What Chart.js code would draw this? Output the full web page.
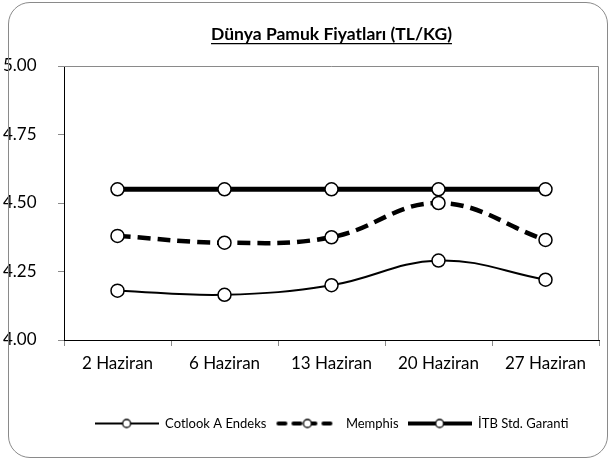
<!DOCTYPE html>
<html>
<head>
<meta charset="utf-8">
<script src="https://cdn.jsdelivr.net/npm/chart.js@4.4.0/dist/chart.umd.min.js"></script>
<style>
    html, body { margin: 0; padding: 0; background: #fff; }
    #wrap { position: relative; width: 614px; height: 460px; }
    #frame {
        position: absolute; left: 8px; top: 2px; width: 598px; height: 454px;
        border: 1px solid #8a8a8a; border-radius: 22px; pointer-events: none;
    }
    canvas { position: absolute; left: 0; top: 0; }
</style>
</head>
<body>
<div id="wrap">
    <canvas id="pamukChart" width="614" height="460"></canvas>
    <div id="frame"></div>
</div>
<script>
    // Veriler
    var categories = ['2 Haziran', '6 Haziran', '13 Haziran', '20 Haziran', '27 Haziran'];
    var seriesNames = ['Cotlook A Endeks', 'Memphis', 'İTB Std. Garanti'];
    var cotlookValues = [4.18, 4.165, 4.20, 4.29, 4.22];
    var memphisValues = [4.38, 4.355, 4.375, 4.50, 4.365];
    var itbValues = [4.55, 4.55, 4.55, 4.55, 4.55];
    var yTicks = [4.00, 4.25, 4.50, 4.75, 5.00];

    var fontFamily = 'Lato, "Open Sans", sans-serif';
    var titleSize = 17.5;

    // legend symbol: line with a marker in the middle
    function legendSymbol(lineWidth, dash) {
        var c = document.createElement('canvas');
        c.width = 64;
        c.height = 14;
        var ctx = c.getContext('2d');
        ctx.strokeStyle = '#000';
        ctx.lineWidth = lineWidth;
        ctx.lineCap = dash ? 'round' : 'butt';
        if (dash) ctx.setLineDash(dash);
        ctx.beginPath();
        ctx.moveTo(dash ? 3 : 0, 7);
        ctx.lineTo(dash ? 61 : 64, 7);
        ctx.stroke();
        ctx.setLineDash([]);
        ctx.beginPath();
        ctx.arc(32, 7, 4, 0, Math.PI * 2);
        ctx.fillStyle = '#fff';
        ctx.fill();
        ctx.lineWidth = 1.3;
        ctx.stroke();
        return c;
    }

    var symbols = [legendSymbol(2), legendSymbol(4, [7, 8]), legendSymbol(4)];

    var plotBorder = {
        id: 'plotBorder',
        beforeDatasetsDraw: function (chart) {
            var a = chart.chartArea;
            var ctx = chart.ctx;
            ctx.save();
            ctx.strokeStyle = '#8a8a8a';
            ctx.lineWidth = 1;
            ctx.beginPath();
            ctx.moveTo(a.left, a.top + 0.5);
            ctx.lineTo(a.right - 0.5, a.top + 0.5);
            ctx.lineTo(a.right - 0.5, a.bottom);
            ctx.stroke();
            ctx.restore();
        }
    };

    var titleUnderline = {
        id: 'titleUnderline',
        afterDraw: function (chart) {
            var t = chart.titleBlock;
            if (!t) return;
            var ctx = chart.ctx;
            ctx.save();
            ctx.font = 'bold ' + titleSize + 'px ' + fontFamily;
            var text = chart.options.plugins.title.text;
            var w = ctx.measureText(text).width;
            var cx = (t.left + t.right) / 2;
            var y = t.top + t.options.padding.top + titleSize * 1.12;
            ctx.strokeStyle = '#000';
            ctx.lineWidth = 1.3;
            ctx.beginPath();
            ctx.moveTo(cx - w / 2, y);
            ctx.lineTo(cx + w / 2, y);
            ctx.stroke();
            ctx.restore();
        }
    };

    var markerStyle = {
        pointRadius: 6.5,
        pointHoverRadius: 6.5,
        pointBackgroundColor: '#fff',
        pointBorderColor: '#000',
        pointBorderWidth: 1.5,
        borderColor: '#000',
        tension: 0.4,
        fill: false
    };

    new Chart(document.getElementById('pamukChart').getContext('2d'), {
        type: 'line',
        data: {
            labels: categories,
            datasets: [
                Object.assign({ label: seriesNames[0], data: cotlookValues, borderWidth: 2 }, markerStyle),
                Object.assign({ label: seriesNames[1], data: memphisValues, borderWidth: 4.5, borderDash: [13, 7] }, markerStyle),
                Object.assign({ label: seriesNames[2], data: itbValues, borderWidth: 5 }, markerStyle)
            ]
        },
        options: {
            responsive: false,
            animation: false,
            layout: {
                padding: { left: 3, right: 15, top: 0, bottom: 20 }
            },
            plugins: {
                title: {
                    display: true,
                    fullSize: false,
                    text: 'Dünya Pamuk Fiyatları (TL/KG)',
                    color: '#000',
                    font: { family: fontFamily, size: titleSize, weight: 'bold' },
                    padding: { top: 24, bottom: 21 }
                },
                legend: {
                    display: true,
                    position: 'bottom',
                    fullSize: false,
                    labels: {
                        usePointStyle: true,
                        pointStyleWidth: 64,
                        padding: 9,
                        color: '#000',
                        font: { family: fontFamily, size: 13 },
                        generateLabels: function (chart) {
                            return chart.data.datasets.map(function (ds, i) {
                                return {
                                    text: ds.label,
                                    pointStyle: symbols[i],
                                    fillStyle: '#fff',
                                    strokeStyle: '#000',
                                    lineWidth: 0,
                                    datasetIndex: i,
                                    fontColor: '#000'
                                };
                            });
                        }
                    }
                },
                tooltip: { enabled: false }
            },
            scales: {
                x: {
                    offset: true,
                    grid: {
                        offset: true,
                        drawOnChartArea: false,
                        tickLength: 6,
                        tickColor: '#8a8a8a'
                    },
                    border: { color: '#000', width: 1 },
                    ticks: {
                        color: '#000',
                        padding: 7,
                        maxRotation: 0,
                        font: { family: fontFamily, size: 17 }
                    },
                    afterFit: function (scale) { scale.height = 68; }
                },
                y: {
                    min: 4.0,
                    max: 5.0,
                    afterBuildTicks: function (scale) {
                        scale.ticks = yTicks.map(function (v) { return { value: v }; });
                    },
                    grid: {
                        drawOnChartArea: false,
                        tickLength: 6,
                        tickColor: '#8a8a8a'
                    },
                    border: { color: '#000', width: 1 },
                    ticks: {
                        color: '#000',
                        crossAlign: 'far',
                        font: { family: fontFamily, size: 17 },
                        callback: function (v) { return Number(v).toFixed(2); }
                    },
                    afterFit: function (scale) { scale.width = 61; }
                }
            }
        },
        plugins: [plotBorder, titleUnderline]
    });
</script>
</body>
</html>
